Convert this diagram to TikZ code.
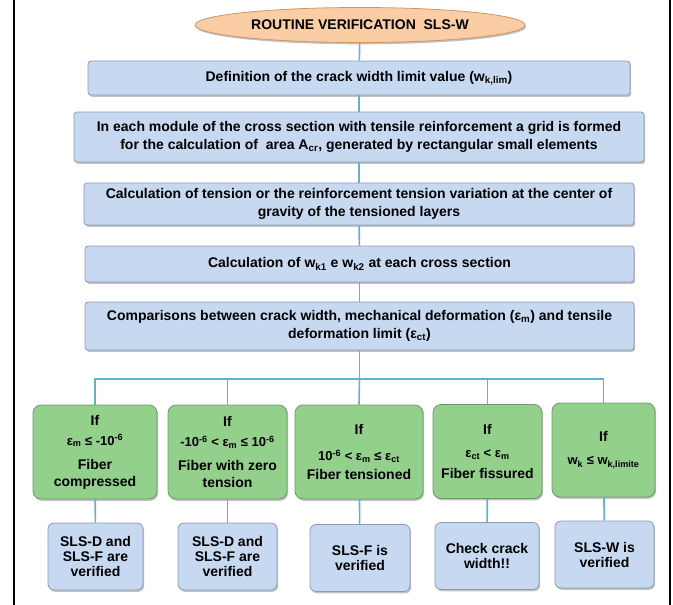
\documentclass[tikz,border=0pt]{standalone}
\usepackage{fontspec}
\setmainfont{Liberation Sans}
\usetikzlibrary{shapes.geometric,shadows}

\definecolor{boxfill}{RGB}{198,217,241}
\definecolor{boxline}{RGB}{140,155,178}
\definecolor{greenfill}{RGB}{146,208,140}
\definecolor{greenline}{RGB}{112,150,112}
\definecolor{peachfill}{RGB}{250,205,165}
\definecolor{peachline}{RGB}{205,150,105}
\definecolor{link}{RGB}{95,178,208}

\tikzset{
  every node/.style={align=center, inner sep=0pt, text=black},
  softshadow/.style={drop shadow={shadow xshift=1.2pt, shadow yshift=-1.8pt, opacity=0.35, fill=black!70}},
  titleoval/.style={ellipse, draw=peachline, fill=peachfill, line width=0.8pt,
    minimum width=330pt, minimum height=35pt, softshadow,
    font=\fontsize{14}{17}\bfseries\selectfont},
  mainbox/.style={rectangle, rounded corners=3pt, draw=boxline, fill=boxfill, line width=0.8pt,
    softshadow, font=\fontsize{14}{18}\bfseries\selectfont},
  casebox/.style={rectangle, rounded corners=8pt, draw=greenline, fill=greenfill, line width=0.8pt,
    minimum height=94pt, softshadow, font=\fontsize{14}{17}\bfseries\selectfont},
  resultbox/.style={rectangle, rounded corners=6pt, draw=boxline, fill=boxfill, line width=0.8pt,
    minimum height=67pt, softshadow, font=\fontsize{14}{15}\bfseries\selectfont},
  link/.style={draw=link, line width=1.6pt},
  frameline/.style={draw=black, line width=1.5pt}
}

\newcommand{\fml}[1]{{\fontsize{13}{17}\selectfont #1}}

\begin{document}
\begin{tikzpicture}[x=1pt, y=-1pt]
\useasboundingbox (0,0) rectangle (673,605);

% side rules of the frame
\draw[frameline] (14,0) -- (14,605);
\draw[frameline] (670,0) -- (670,605);

% main sequence
\node[titleoval] (title) at (360,25) {ROUTINE VERIFICATION\ \ SLS-W};
\node[mainbox, minimum width=542pt, minimum height=34pt] (b1) at (359,78)
  {Definition of the crack width limit value (w\textsubscript{k,lim})};
\node[mainbox, minimum width=570pt, minimum height=50pt] (b2) at (359,137)
  {In each module of the cross section with tensile reinforcement a grid is formed\\
   for the calculation of \ area A\textsubscript{cr}, generated by rectangular small elements};
\node[mainbox, minimum width=550pt, minimum height=42pt] (b3) at (359,204)
  {Calculation of tension or the reinforcement tension variation at the center of\\
   gravity of the tensioned layers};
\node[mainbox, minimum width=549pt, minimum height=36pt] (b4) at (359.5,264)
  {Calculation of w\textsubscript{k1} e w\textsubscript{k2} at each cross section};
\node[mainbox, minimum width=549pt, minimum height=48pt] (b5) at (359.5,326)
  {Comparisons between crack width, mechanical deformation (ε\textsubscript{m}) and tensile\\
   deformation limit (ε\textsubscript{ct})};

% case boxes
\node[casebox, minimum width=124pt] (g1) at (95,452)
  {If\\[3pt] \fml{ε\textsubscript{m} ≤ -10\textsuperscript{-6}}\\[7pt] Fiber\\ compressed};
\node[casebox, minimum width=119pt] (g2) at (227.5,452)
  {If\\[3pt] \fml{-10\textsuperscript{-6} < ε\textsubscript{m} ≤ 10\textsuperscript{-6}}\\[7pt] Fiber with zero\\ tension};
\node[casebox, minimum width=128pt] (g3) at (359,452)
  {If\\[9pt] \fml{10\textsuperscript{-6} < ε\textsubscript{m} ≤ ε\textsubscript{ct}}\\[2pt] Fiber tensioned};
\node[casebox, minimum width=109pt] (g4) at (487.5,451.5)
  {If\\[6pt] \fml{ε\textsubscript{ct} < ε\textsubscript{m}}\\[4pt] Fiber fissured};
\node[casebox, minimum width=103pt] (g5) at (603.5,450)
  {If\\[6pt] \fml{w\textsubscript{k} ≤ w\textsubscript{k,limite}}};

% outcomes
\node[resultbox, minimum width=95pt] (r1) at (95.5,556.5) {SLS-D and\\ SLS-F are\\ verified};
\node[resultbox, minimum width=99pt] (r2) at (227.5,556.5) {SLS-D and\\ SLS-F are\\ verified};
\node[resultbox, minimum width=100pt] (r3) at (360,558) {SLS-F is\\ verified};
\node[resultbox, minimum width=104pt] (r4) at (487,556) {Check crack\\ width!!};
\node[resultbox, minimum width=99pt] (r5) at (604.5,554.5) {SLS-W is\\ verified};

% connectors
\coordinate (hub) at (359.5,379);
\draw[link] (title) -- (b1);
\draw[link] (b1) -- (b2);
\draw[link] (b2) -- (b3);
\draw[link] (b3) -- (b4);
\draw[link] (b4) -- (b5);
\draw[link] (b5) -- (hub);
\draw[link] (g1.north) |- (hub) -| (g5.north);
\draw[link] (hub) -- (g3.north);
\draw[link] (g2.north) -- (g2.north |- hub);
\draw[link] (g4.north) -- (g4.north |- hub);
\draw[link] (g1) -- (r1);
\draw[link] (g2) -- (r2);
\draw[link] (g3) -- (r3);
\draw[link] (g4) -- (r4);
\draw[link] (g5) -- (r5);
\end{tikzpicture}
\end{document}
